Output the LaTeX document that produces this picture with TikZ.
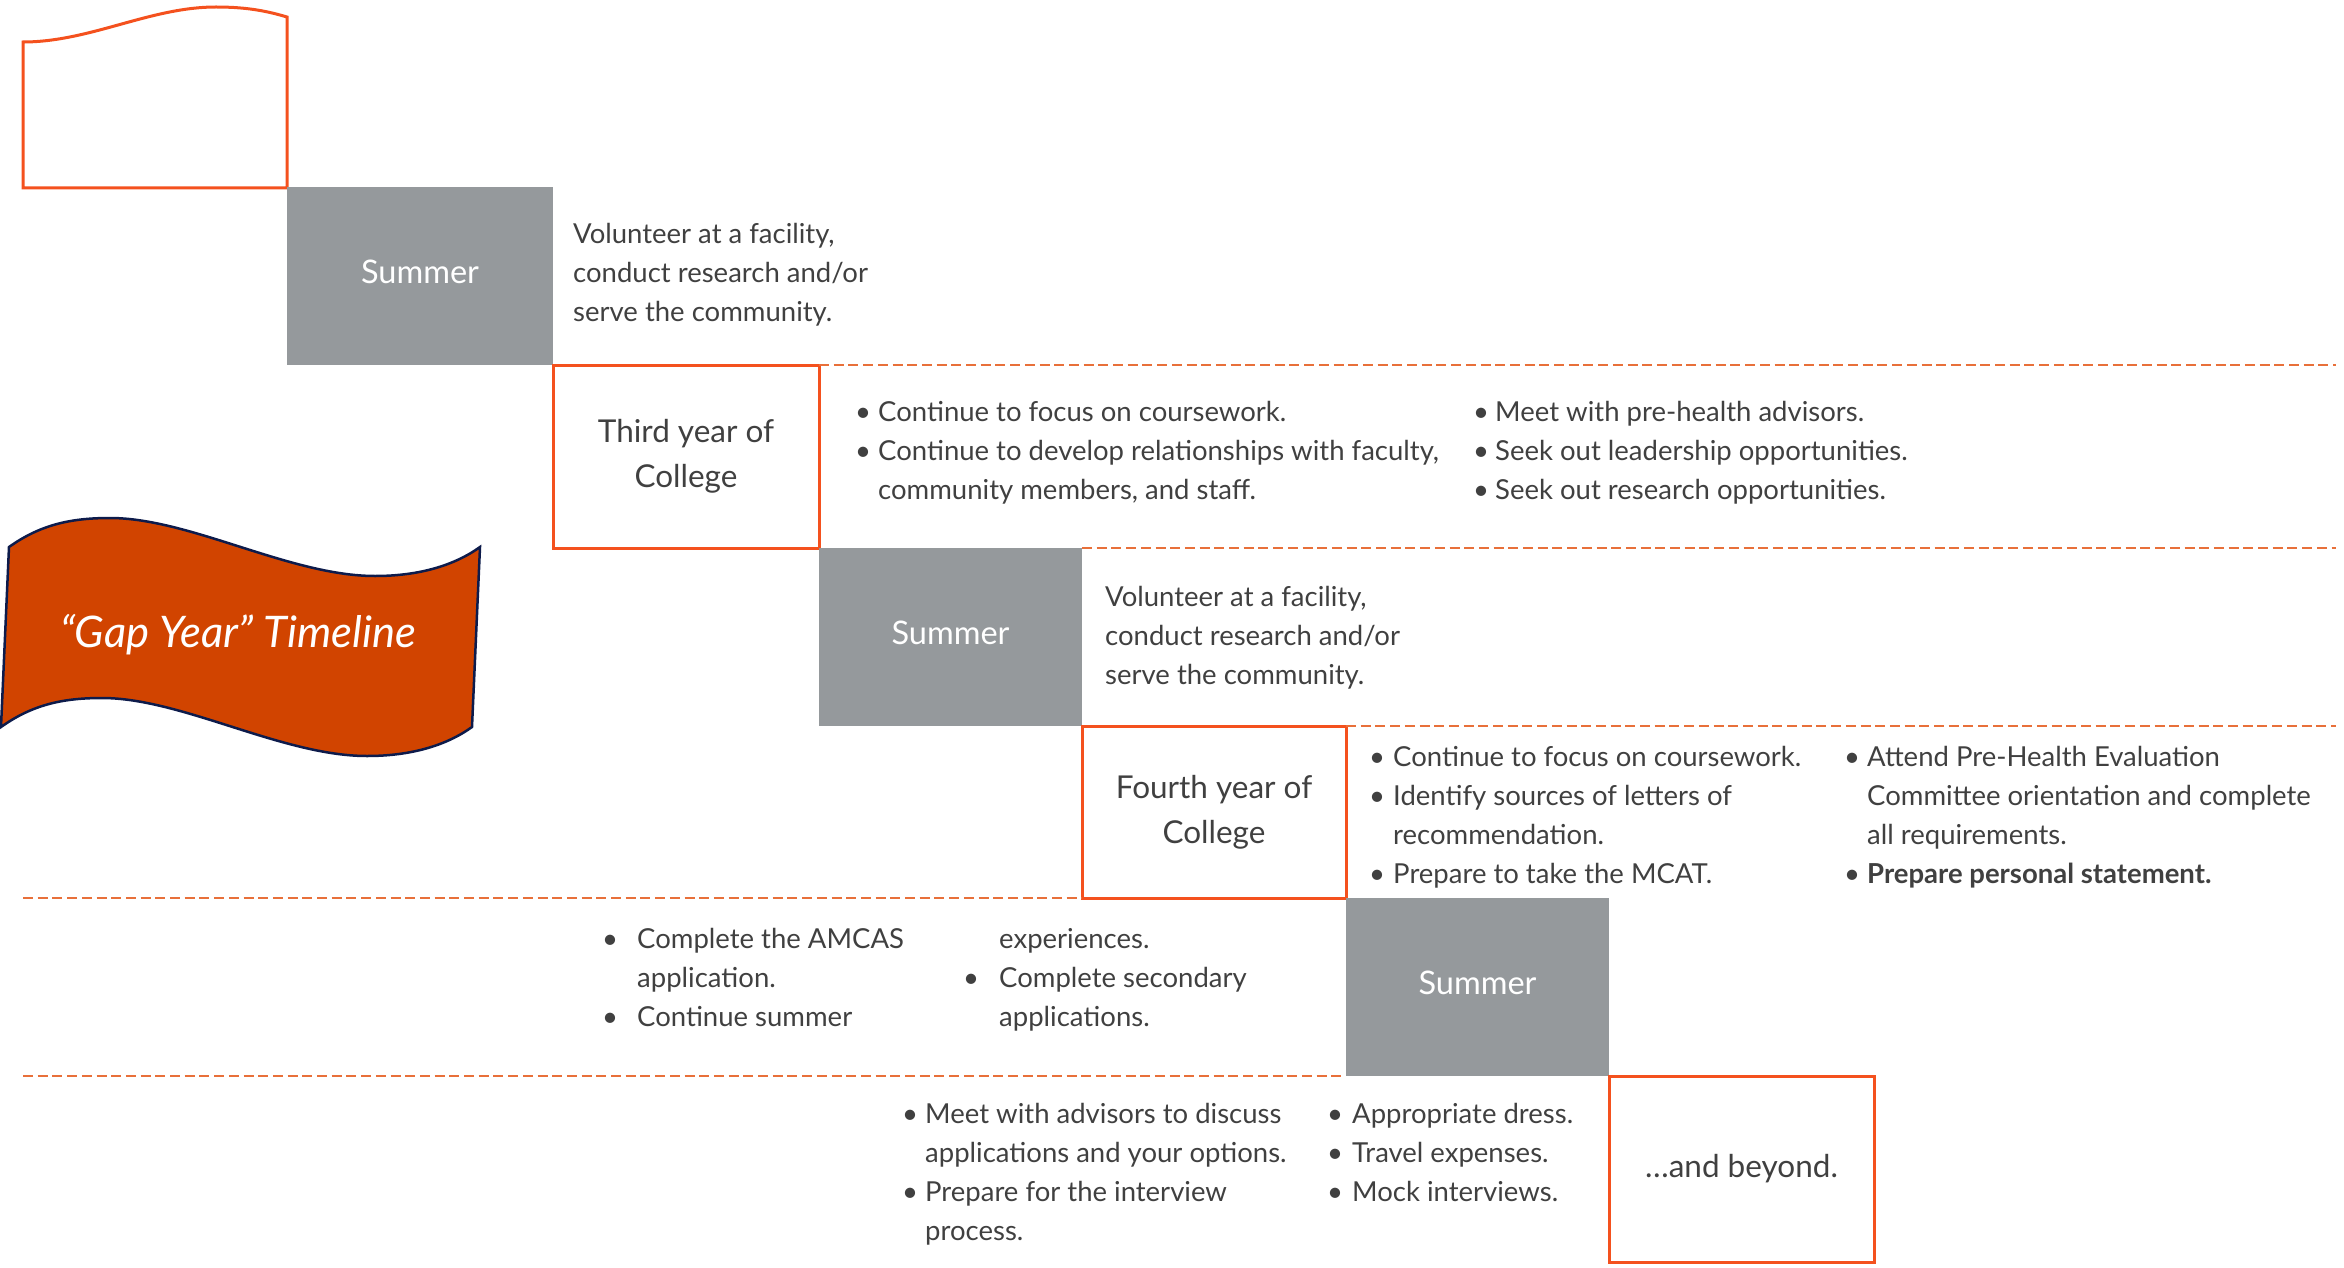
\documentclass[tikz,border=0pt]{standalone}
\usepackage{fontspec}
\setmainfont{Lato}
\usepackage{tikz}
\usetikzlibrary{positioning}
\definecolor{boxred}{HTML}{F4511E}
\definecolor{sepline}{HTML}{E8703A}
\definecolor{summergray}{HTML}{95999C}
\definecolor{flagfill}{HTML}{D14400}
\definecolor{flagline}{HTML}{0D1B4B}
\definecolor{bodytext}{HTML}{404040}
\tikzstyle{summer}=   [fill=summergray, text=white, minimum width=263pt, minimum height=178pt, text depth=8pt, inner sep=0pt, outer sep=0pt, font=\fontsize{32.5}{40}\selectfont]
\tikzstyle{year}=     [draw=boxred, line width=3pt, text=bodytext, align=center, minimum width=265pt, minimum height=180pt, inner sep=0pt, outer sep=0pt, font=\fontsize{31.5}{45}\selectfont]
\tikzstyle{sep}=      [sepline, line width=2pt, dash pattern=on 10pt off 4.7pt]
\tikzstyle{body}=     [text=bodytext, align=left, anchor=base west, inner sep=0pt, font=\fontsize{27.5}{38.7}\selectfont]
\newcommand{\blt}[1]{\makebox[#1][l]{\textbullet}}
\newcommand{\indt}[1]{\hspace*{#1}}

\begin{document}
\begin{tikzpicture}[x=1pt,y=-1pt]
 \useasboundingbox (0,0) rectangle (2344,1268);
 \coordinate (lend) at (23,0);
 \coordinate (rend) at (2336,0);

 % empty flag at the top
 \draw[boxred, line width=3pt] (23,42) .. controls (90,42) and (150,7) .. (216,7) .. controls (250,7) and (270,12) .. (287,17) -- (287,188) -- (23,188) -- cycle;

 % title flag
 \draw[fill=flagfill, draw=flagline, line width=2.5pt] (9,547) .. controls (40,525) and (70,518) .. (110,518) .. controls (190,518) and (290,576) .. (375,576) .. controls (420,576) and (455,565) .. (480,547)
  -- (472,727) .. controls (447,745) and (412,756) .. (367,756) .. controls (282,756) and (182,698) .. (102,698) .. controls (62,698) and (32,705) .. (1,727) -- cycle;
 \node[text=white, font=\fontsize{43.5}{44}\itshape] (title) at (238,635) {“Gap Year” Timeline};

 % staircase
 \node[summer, minimum width=266pt] (summer1) at (420,276) {Summer};
 \node[year, minimum width=266pt, minimum height=183pt, below right=0pt and 0pt of summer1] (third) {Third year of\\College};
 \node[summer, below right=0pt and 0pt of third] (summer2) {Summer};
 \node[year, minimum width=264pt, minimum height=172pt, below right=0pt and 0pt of summer2] (fourth) {Fourth year of\\College};
 \node[summer, below right=0pt and 0pt of fourth] (summer3) {Summer};
 \node[year, minimum height=186pt, below right=0pt and 0pt of summer3] (beyond) {…and beyond.};

 % separators
 \draw[sep] (third.north east) -- (third.north east -| rend);
 \draw[sep] (summer2.north east) -- (summer2.north east -| rend);
 \draw[sep] (fourth.north east) -- (fourth.north east -| rend);
 \draw[sep] (lend |- fourth.south west) -- (fourth.south west);
 \draw[sep] (lend |- summer3.south west) -- (summer3.south west);

 % texts (placed at the baseline of their last line)
 \node[body] (vol1) at (573,321) {Volunteer at a facility,\\conduct research and/or\\serve the community.};
 \node[body] (thirdA) at (855,499) {\blt{23pt}Continue to focus on coursework.\\\blt{23pt}Continue to develop relationships with faculty,\\\indt{23pt}community members, and staff.};
 \node[body] (thirdB) at (1473,499) {\blt{22pt}Meet with pre-health advisors.\\\blt{22pt}Seek out leadership opportunities.\\\blt{22pt}Seek out research opportunities.};
 \node[body] (vol2) at (1105,684) {Volunteer at a facility,\\conduct research and/or\\serve the community.};
 \node[body] (fourthA) at (1369,883) {\blt{24pt}Continue to focus on coursework.\\\blt{24pt}Identify sources of letters of\\\indt{24pt}recommendation.\\\blt{24pt}Prepare to take the MCAT.};
 \node[body] (fourthB) at (1844,883) {\blt{23pt}Attend Pre-Health Evaluation\\\indt{23pt}Committee orientation and complete\\\indt{23pt}all requirements.\\\blt{23pt}\textbf{Prepare personal statement.}};
 \node[body] (amcasA) at (602,1026) {\blt{35pt}Complete the AMCAS\\\indt{35pt}application.\\\blt{35pt}Continue summer};
 \node[body] (amcasB) at (963,1026) {\indt{36pt}experiences.\\\blt{36pt}Complete secondary\\\indt{36pt}applications.};
 \node[body] (lastA) at (902,1240) {\blt{23pt}Meet with advisors to discuss\\\indt{23pt}applications and your options.\\\blt{23pt}Prepare for the interview\\\indt{23pt}process.};
 \node[body] (lastB) at (1327,1201) {\blt{25pt}Appropriate dress.\\\blt{25pt}Travel expenses.\\\blt{25pt}Mock interviews.};
\end{tikzpicture}
\end{document}
